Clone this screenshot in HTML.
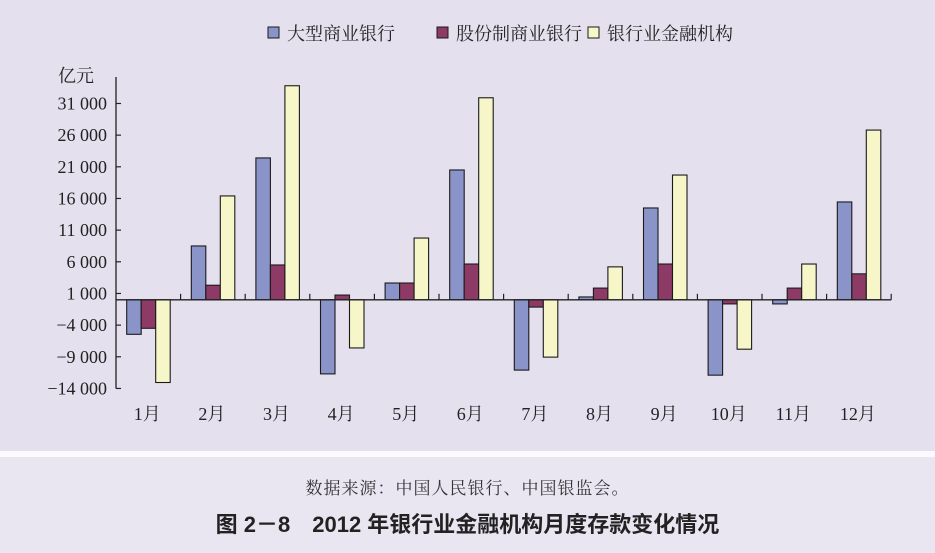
<!DOCTYPE html>
<html><head><meta charset="utf-8">
<style>
body{margin:0;width:935px;height:553px;overflow:hidden;background:#e6e2ef;font-family:"Liberation Serif","Noto Serif CJK SC",serif;}
#wrap{position:relative;width:935px;height:553px;}
#top{position:absolute;left:0;top:0;width:935px;height:451px;background:#e4e0ee;}
#stripe{position:absolute;left:0;top:451px;width:935px;height:6px;background:#fbfaff;}
#bot{position:absolute;left:0;top:457px;width:935px;height:96px;background:#e9e6f1;}
.src{position:absolute;top:474px;left:0;width:935px;text-align:center;font-size:17px;color:#333;font-family:"Liberation Serif","Noto Serif CJK SC",serif;letter-spacing:1px;}
.ttl{position:absolute;top:507px;left:0;width:935px;text-align:center;font-size:22px;color:#222;font-weight:bold;font-family:"Liberation Sans","Noto Sans CJK SC",sans-serif;}
svg{position:absolute;left:0;top:0;}
</style></head><body>
<div id="wrap">
<div id="top"></div>
<div id="stripe"></div>
<div id="bot"></div>
<svg id="chart" width="935" height="451"></svg>
<div class="src">数据来源：中国人民银行、中国银监会。</div>
<div class="ttl">图 2－8　2012 年银行业金融机构月度存款变化情况</div>
</div>
<script>
const categories=["1月","2月","3月","4月","5月","6月","7月","8月","9月","10月","11月","12月"];
const seriesNames=["大型商业银行","股份制商业银行","银行业金融机构"];
const bigBanks=[-5450,8500,22400,-11700,2650,20500,-11100,450,14500,-11900,-650,15450];
const jointBanks=[-4500,2300,5500,750,2650,5650,-1150,1850,5650,-650,1850,4100];
const allBanks=[-13060,16400,33800,-7600,9750,31900,-9050,5200,19700,-7800,5650,26800];
const tickValues=[31000,26000,21000,16000,11000,6000,1000,-4000,-9000,-14000];
const tickLabels=["31 000","26 000","21 000","16 000","11 000","6 000","1 000","−4 000","−9 000","−14 000"];
const colors=["#8a94c8","#8e3a66","#f6f6c8"];
const svg=document.getElementById('chart');
const NS="http://www.w3.org/2000/svg";
const x0=116,gw=64.6,zeroY=299.8,ppu=6.333/1000;
const y=v=>zeroY-v*ppu;
function mk(t,a){const e=document.createElementNS(NS,t);for(const k in a)e.setAttribute(k,a[k]);svg.appendChild(e);return e;}
let e=mk('line',{x1:x0,y1:77,x2:x0,y2:y(-14000),stroke:'#222','stroke-width':1.3});


tickValues.forEach((v,i)=>{
  let t=mk('line',{x1:x0,y1:y(v),x2:x0+5,y2:y(v),stroke:'#222','stroke-width':1.2});
  
  
  let l=mk('text',{x:x0-9,y:y(v)+6,'text-anchor':'end','font-size':18,fill:'#222'});
  l.textContent=tickLabels[i];
  
  
});
let u=mk('text',{x:58,y:82,'font-size':18,fill:'#222'});u.textContent='亿元';


const series=[bigBanks,jointBanks,allBanks];
const bw=14.5;
categories.forEach((c,i)=>{
  const gx=x0+i*gw;
  series.forEach((s,j)=>{
    const v=s[i];const top=Math.min(y(v),zeroY);const h=Math.abs(y(v)-zeroY);
    let r=mk('rect',{x:gx+10.7+j*bw,y:top,width:bw,height:h,fill:colors[j],stroke:'#1a1a1a','stroke-width':1.1});
    
    
  });
  let sep=mk('line',{x1:gx+gw,y1:zeroY,x2:gx+gw,y2:zeroY-6,stroke:'#222','stroke-width':1.2});
  
  
  let l=mk('text',{x:gx+gw/2-1,y:420,'text-anchor':'middle','font-size':18,fill:'#222'});
  l.textContent=c;
  
  
});
e=mk('line',{x1:x0,y1:zeroY,x2:x0+12*gw,y2:zeroY,stroke:'#222','stroke-width':1.3});


const lx=[268,437,588];
seriesNames.forEach((n,j)=>{
  let r=mk('rect',{x:lx[j],y:27,width:11,height:11,fill:colors[j],stroke:'#1a1a1a','stroke-width':1});
  
  
  let t=mk('text',{x:lx[j]+19,y:40,'font-size':18,fill:'#222'});t.textContent=n;
  
  
});
</script>
</body></html>
